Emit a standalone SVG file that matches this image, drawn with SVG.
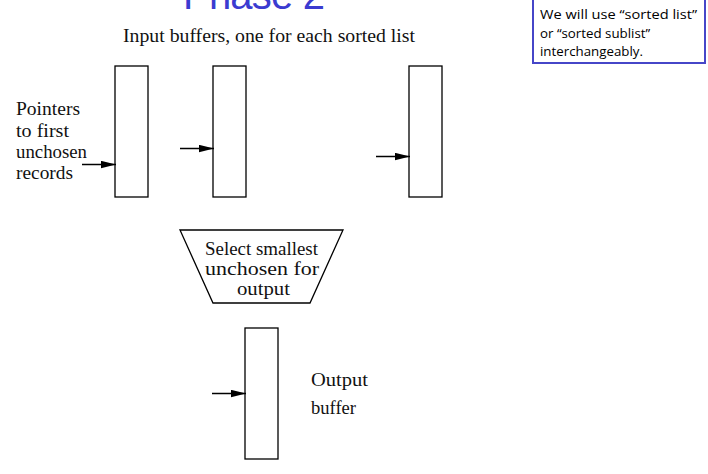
<svg xmlns="http://www.w3.org/2000/svg" width="708" height="474" viewBox="0 0 708 474">
<style>
.buf{fill:#fff;stroke:#000;stroke-width:1.3}
.cm{font-family:"Liberation Serif","DejaVu Serif",serif;font-size:18.5px;fill:#111}
.conn line{stroke:#000;stroke-width:1.3}
</style>
<defs>
<marker id="ah" viewBox="0 0 15 8" refX="15" refY="4" markerWidth="15" markerHeight="8" markerUnits="userSpaceOnUse" orient="auto">
<path d="M0,0.3 L15,4 L0,7.7 Z" fill="#000"/>
</marker>
</defs>
<rect width="708" height="474" fill="#fff"/>
<g id="title"><text x="183" y="9" font-family="Liberation Sans, Arial, sans-serif" font-size="40" fill="#3b3bd0" textLength="142">Phase 2</text></g>
<g id="note">
<rect x="533" y="-2" width="172" height="65" fill="#fff" stroke="#4646c8" stroke-width="2"/>
<g font-family="Open Sans, Liberation Sans, sans-serif" font-size="13.3" fill="#000">
<text x="540" y="19" textLength="157" lengthAdjust="spacingAndGlyphs">We will use “sorted list”</text>
<text x="540" y="38">or “sorted sublist”</text>
<text x="540" y="56">interchangeably.</text>
</g>
</g>
<g id="subtitle"><text class="cm" x="123" y="42" font-size="17" textLength="292" lengthAdjust="spacingAndGlyphs">Input buffers, one for each sorted list</text></g>
<g id="pointers-label" class="cm">
<text x="16" y="115" textLength="64" lengthAdjust="spacingAndGlyphs">Pointers</text>
<text x="16" y="137" textLength="53" lengthAdjust="spacingAndGlyphs">to first</text>
<text x="16" y="158" textLength="71" lengthAdjust="spacingAndGlyphs">unchosen</text>
<text x="16" y="179" textLength="57" lengthAdjust="spacingAndGlyphs">records</text>
</g>
<g id="buf1"><rect class="buf" x="115" y="66" width="33" height="131"/></g>
<g id="buf2"><rect class="buf" x="213" y="66" width="33" height="131"/></g>
<g id="buf3"><rect class="buf" x="409" y="66" width="33" height="131"/></g>
<g id="select">
<polygon points="180,230 343,230 310,303 213,303" fill="#fff" stroke="#000" stroke-width="1.3"/>
<g class="cm">
<text x="205" y="255" textLength="113" lengthAdjust="spacingAndGlyphs">Select smallest</text>
<text x="205" y="275" textLength="114" lengthAdjust="spacingAndGlyphs">unchosen for</text>
<text x="237" y="295" textLength="53" lengthAdjust="spacingAndGlyphs">output</text>
</g>
</g>
<g id="outbuf"><rect class="buf" x="245" y="328" width="33" height="131"/></g>
<g id="output-label" class="cm">
<text x="311" y="386" textLength="57" lengthAdjust="spacingAndGlyphs">Output</text>
<text x="311" y="414" textLength="45" lengthAdjust="spacingAndGlyphs">buffer</text>
</g>
<g id="connectors" class="conn">
<line x1="82" y1="164.5" x2="116" y2="164.5" marker-end="url(#ah)"/>
<line x1="180" y1="148.5" x2="214" y2="148.5" marker-end="url(#ah)"/>
<line x1="376" y1="156.5" x2="410" y2="156.5" marker-end="url(#ah)"/>
<line x1="212" y1="393.5" x2="246" y2="393.5" marker-end="url(#ah)"/>
</g>
</svg>
